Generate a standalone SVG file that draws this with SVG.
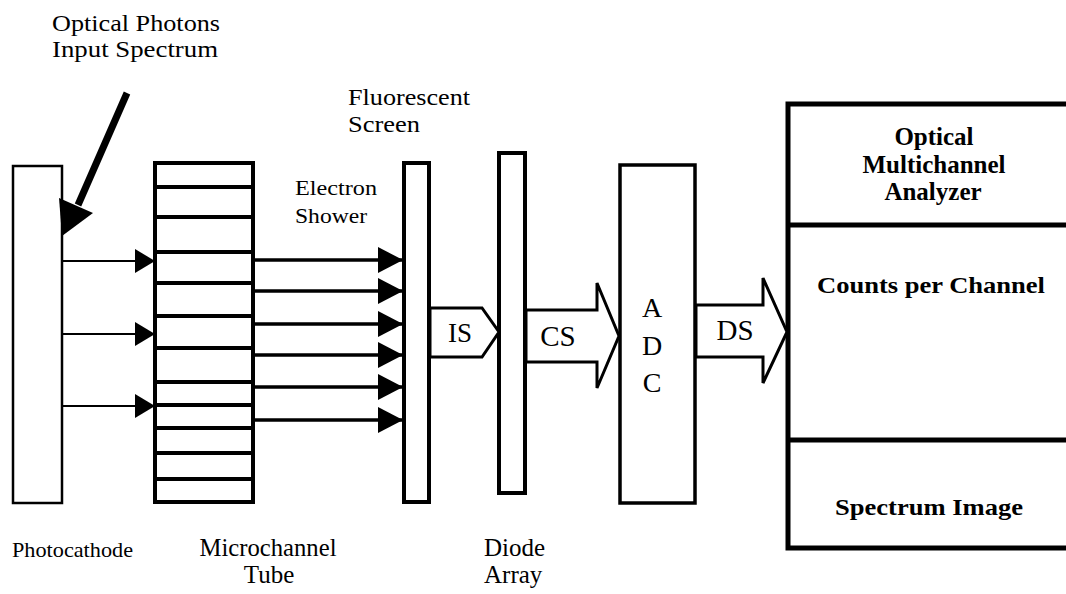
<svg xmlns="http://www.w3.org/2000/svg" width="1066" height="594" viewBox="0 0 1066 594">
<defs>
<style>
.t{font-family:'Liberation Serif','DejaVu Serif',serif;fill:#000}
.b{font-family:'Liberation Serif','DejaVu Serif',serif;font-weight:bold;fill:#000}
.box{fill:#fff;stroke:#000}
.thin{stroke:#000;stroke-width:2;fill:none}
.thick{stroke:#000;stroke-width:3.5;fill:none}
.fat{fill:#fff;stroke:#000;stroke-width:3;stroke-linejoin:miter}
</style>
<marker id="ah1" viewBox="0 0 20 24" refX="20" refY="12" markerWidth="20" markerHeight="24" markerUnits="userSpaceOnUse" orient="auto">
<path d="M0,0 L20,12 L0,24 Z" fill="#000"/>
</marker>
<marker id="ah2" viewBox="0 0 25 26" refX="25" refY="13" markerWidth="25" markerHeight="26" markerUnits="userSpaceOnUse" orient="auto">
<path d="M0,0 L25,13 L0,26 Z" fill="#000"/>
</marker>
</defs>
<rect width="1066" height="594" fill="#fff"/>

<g id="input-label">
<text class="t" x="52" y="31" font-size="24" textLength="168" lengthAdjust="spacingAndGlyphs">Optical Photons</text>
<text class="t" x="52" y="57" font-size="24" textLength="166" lengthAdjust="spacingAndGlyphs">Input Spectrum</text>
</g>

<g id="photocathode">
<rect class="box" x="13" y="166" width="49" height="337" stroke-width="2.5"/>
<text class="t" x="12" y="557" font-size="21" textLength="121" lengthAdjust="spacingAndGlyphs">Photocathode</text>
</g>

<g id="microchannel">
<rect class="box" x="155" y="163" width="98" height="339" stroke-width="4"/>
<path d="M155,187H253M155,217H253M155,252H253M155,283H253M155,316H253M155,348H253M155,382H253M155,405H253M155,428H253M155,453H253M155,479H253" stroke="#000" stroke-width="4"/>
<text class="t" x="268" y="556" font-size="25" text-anchor="middle" textLength="137" lengthAdjust="spacingAndGlyphs">Microchannel</text>
<text class="t" x="269" y="583" font-size="25" text-anchor="middle">Tube</text>
</g>

<g id="fluorescent-screen">
<rect class="box" x="404" y="163" width="25" height="339" stroke-width="4"/>
<text class="t" x="348" y="105" font-size="24" textLength="122" lengthAdjust="spacingAndGlyphs">Fluorescent</text>
<text class="t" x="348" y="132" font-size="24" textLength="72" lengthAdjust="spacingAndGlyphs">Screen</text>
</g>

<g id="electron-shower-label">
<text class="t" x="295" y="195" font-size="22" textLength="82" lengthAdjust="spacingAndGlyphs">Electron</text>
<text class="t" x="295" y="223" font-size="22" textLength="72" lengthAdjust="spacingAndGlyphs">Shower</text>
</g>

<g id="diode-array">
<rect class="box" x="499" y="153" width="26" height="340" stroke-width="4"/>
<text class="t" x="484" y="556" font-size="25">Diode</text>
<text class="t" x="484" y="583" font-size="25">Array</text>
</g>

<g id="adc">
<rect class="box" x="620" y="165" width="75" height="338" stroke-width="3.5"/>
<text class="t" x="652" y="317" font-size="28" text-anchor="middle">A</text>
<text class="t" x="652" y="355" font-size="28" text-anchor="middle">D</text>
<text class="t" x="652" y="392" font-size="28" text-anchor="middle">C</text>
</g>

<g id="oma">
<rect class="box" x="788" y="104" width="290" height="444" stroke-width="5"/>
<path d="M788,225H1070M788,440H1070" stroke="#000" stroke-width="5"/>
<text class="b" x="934" y="145" font-size="25" text-anchor="middle">Optical</text>
<text class="b" x="934" y="173" font-size="25" text-anchor="middle">Multichannel</text>
<text class="b" x="933" y="200" font-size="25" text-anchor="middle">Analyzer</text>
<text class="b" x="931" y="293" font-size="24" text-anchor="middle" textLength="228" lengthAdjust="spacingAndGlyphs">Counts per Channel</text>
<text class="b" x="929" y="515" font-size="24" text-anchor="middle" textLength="188" lengthAdjust="spacingAndGlyphs">Spectrum Image</text>
</g>

<g id="connectors">
<line x1="127" y1="93" x2="78" y2="205" stroke="#000" stroke-width="7"/>
<polygon points="62,236 59,198 93,213" fill="#000"/>
<line class="thin" x1="62" y1="261" x2="155" y2="261" marker-end="url(#ah1)"/>
<line class="thin" x1="62" y1="334" x2="155" y2="334" marker-end="url(#ah1)"/>
<line class="thin" x1="62" y1="406" x2="155" y2="406" marker-end="url(#ah1)"/>
<line class="thick" x1="253" y1="260" x2="403" y2="260" marker-end="url(#ah2)"/>
<line class="thick" x1="253" y1="291" x2="403" y2="291" marker-end="url(#ah2)"/>
<line class="thick" x1="253" y1="324" x2="403" y2="324" marker-end="url(#ah2)"/>
<line class="thick" x1="253" y1="355" x2="403" y2="355" marker-end="url(#ah2)"/>
<line class="thick" x1="253" y1="387" x2="403" y2="387" marker-end="url(#ah2)"/>
<line class="thick" x1="253" y1="420" x2="403" y2="420" marker-end="url(#ah2)"/>
<polygon class="fat" points="430,308 482,308 499,332 482,357 430,357"/>
<text class="t" x="460" y="342" font-size="27" text-anchor="middle">IS</text>
<polygon class="fat" points="526,310 597,310 597,283 619,336 597,388 597,362 526,362"/>
<text class="t" x="558" y="346" font-size="29" text-anchor="middle">CS</text>
<polygon class="fat" points="696,305 763,305 763,278 787,332 763,383 763,357 696,357"/>
<text class="t" x="735" y="340" font-size="29" text-anchor="middle">DS</text>
</g>
</svg>
